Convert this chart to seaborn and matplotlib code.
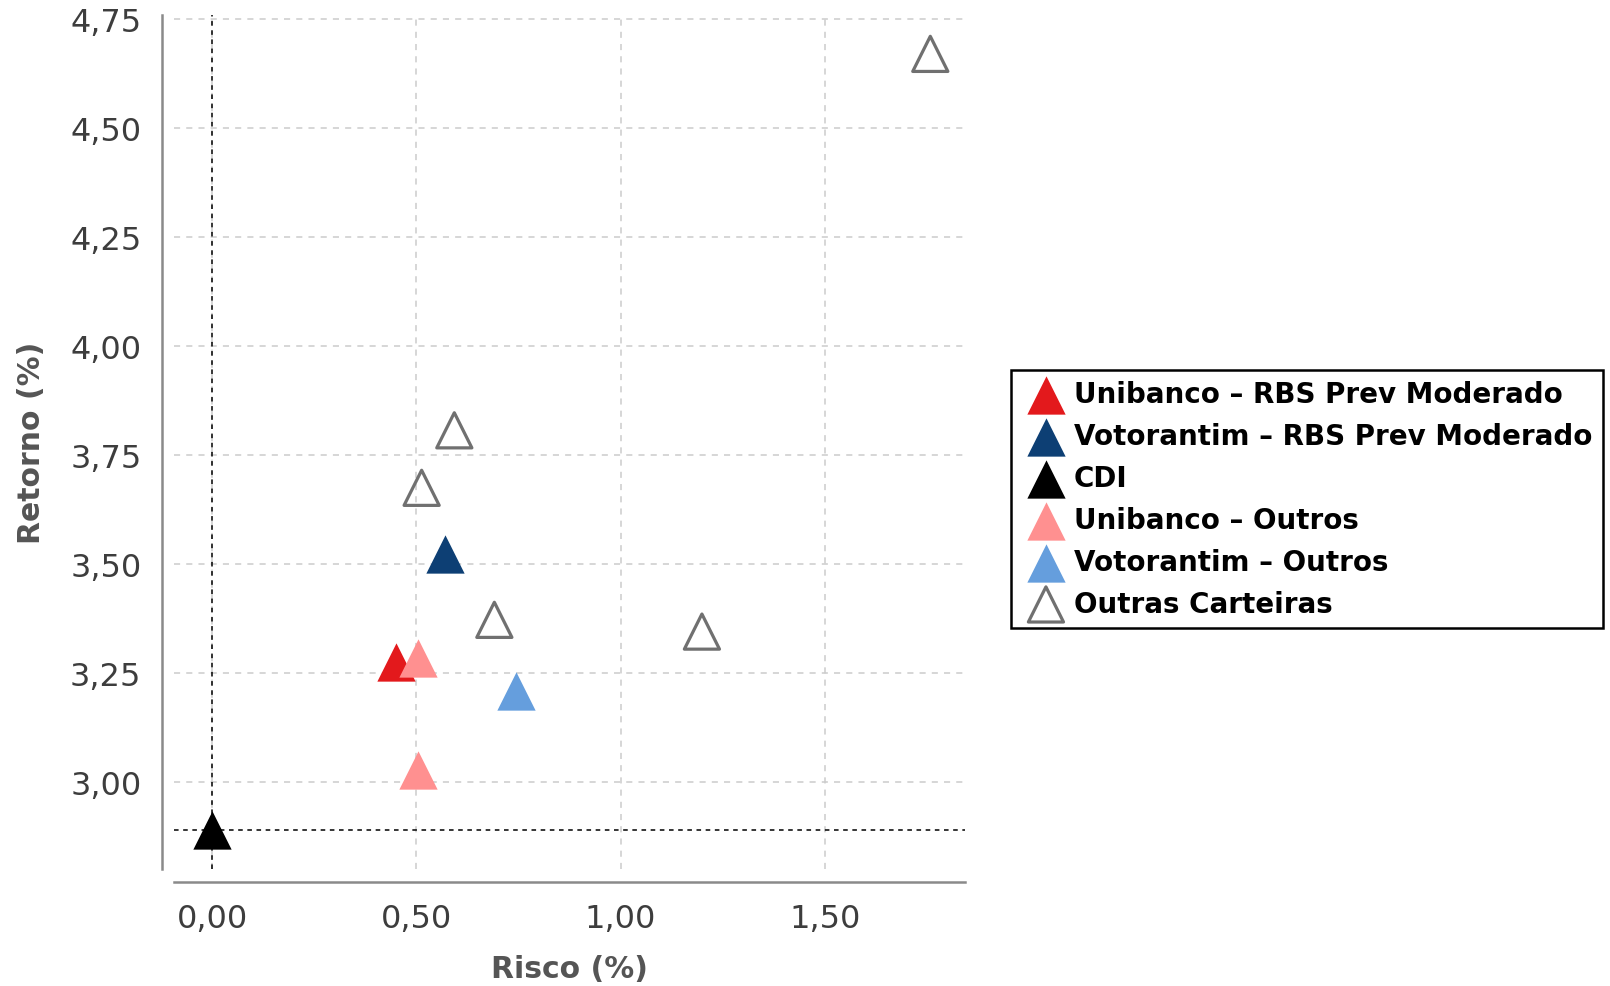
import matplotlib
matplotlib.use("Agg")
import matplotlib.pyplot as plt
import pandas as pd
import seaborn as sns
from matplotlib.ticker import FixedLocator, FuncFormatter

# legend order and colours
grupos = [
    "Unibanco – RBS Prev Moderado",
    "Votorantim – RBS Prev Moderado",
    "CDI",
    "Unibanco – Outros",
    "Votorantim – Outros",
    "Outras Carteiras",
]
cores = ["#E3191C", "#0D3F74", "#000000", "#FF9090", "#659EDD", "#707070"]

# points
risco = [0.451, 0.570, 0.000, 0.504, 0.504, 0.744, 0.593, 0.513, 0.691, 1.199, 1.758]
retorno = [3.276, 3.523, 2.889, 3.284, 3.028, 3.208, 3.807, 3.675, 3.372, 3.345, 4.671]
grupo = [
    "Unibanco – RBS Prev Moderado",
    "Votorantim – RBS Prev Moderado",
    "CDI",
    "Unibanco – Outros",
    "Unibanco – Outros",
    "Votorantim – Outros",
    "Outras Carteiras",
    "Outras Carteiras",
    "Outras Carteiras",
    "Outras Carteiras",
    "Outras Carteiras",
]

x_ticks = [0.0, 0.5, 1.0, 1.5]
y_ticks = [3.00, 3.25, 3.50, 3.75, 4.00, 4.25, 4.50, 4.75]


def virgula(v, _):
    return f"{v:.2f}".replace(".", ",")


def main():
    df = pd.DataFrame({"risco": risco, "retorno": retorno, "grupo": grupo})

    sns.set_style("white")
    plt.rcParams["font.family"] = ["DejaVu Sans"]

    fig = plt.figure(figsize=(16.1, 9.87), dpi=100)
    ax = fig.add_axes([0.1081, 0.1185, 0.4913, 0.8652])

    # reference lines at the CDI point
    cdi = df[df["grupo"] == "CDI"].iloc[0]
    ax.axvline(cdi["risco"], color="black", linestyle=(0, (3, 3)), linewidth=1.1, zorder=2)
    ax.axhline(cdi["retorno"], color="black", linestyle=(0, (3, 3)), linewidth=1.1, zorder=2)

    for nome, cor in zip(grupos, cores):
        sub = df[df["grupo"] == nome]
        if nome == "Outras Carteiras":
            sns.scatterplot(
                data=sub, x="risco", y="retorno", ax=ax, marker="^", s=640,
                facecolor="none", edgecolor=cor, linewidth=2.3, label=nome, zorder=3,
            )
        else:
            sns.scatterplot(
                data=sub, x="risco", y="retorno", ax=ax, marker="^", s=760,
                color=cor, linewidth=0, label=nome, zorder=3,
            )

    ax.set_xlim(-0.093, 1.843)
    ax.set_ylim(2.800, 4.760)
    ax.xaxis.set_major_locator(FixedLocator(x_ticks))
    ax.yaxis.set_major_locator(FixedLocator(y_ticks))
    ax.xaxis.set_major_formatter(FuncFormatter(virgula))
    ax.yaxis.set_major_formatter(FuncFormatter(virgula))

    ax.grid(True, color="#cccccc", linestyle=(0, (4, 4)), linewidth=1.1, zorder=0)
    ax.set_axisbelow(True)

    sns.despine(ax=ax, offset={"left": 9, "bottom": 9.5})
    for side in ["left", "bottom"]:
        ax.spines[side].set_color("#8a8a8a")
        ax.spines[side].set_linewidth(1.8)
    ax.tick_params(direction="out", length=4.5, width=1.8, color="#8a8a8a",
                   labelsize=23, labelcolor="#3d3d3d", pad=10)
    ax.tick_params(axis="x", pad=10.5)

    ax.set_xlabel("Risco (%)", fontsize=21.5, fontweight="bold", color="#555555", labelpad=14)
    ax.set_ylabel("Retorno (%)", fontsize=21.5, fontweight="bold", color="#555555", labelpad=17.5)

    handles, labels = ax.get_legend_handles_labels()
    ax.get_legend().remove()
    leg = fig.legend(
        handles, labels, loc="center left", bbox_to_anchor=(0.628, 0.4934),
        prop={"weight": "bold", "size": 20}, labelcolor="black", frameon=True, fancybox=False,
        edgecolor="black", framealpha=1, labelspacing=0.5, handletextpad=0.12,
        handlelength=1.75, borderpad=0.38, borderaxespad=0,
    )
    leg.get_frame().set_linewidth(1.8)

    fig.savefig("out.png", dpi=100)
    plt.close(fig)


if __name__ == "__main__":
    main()
